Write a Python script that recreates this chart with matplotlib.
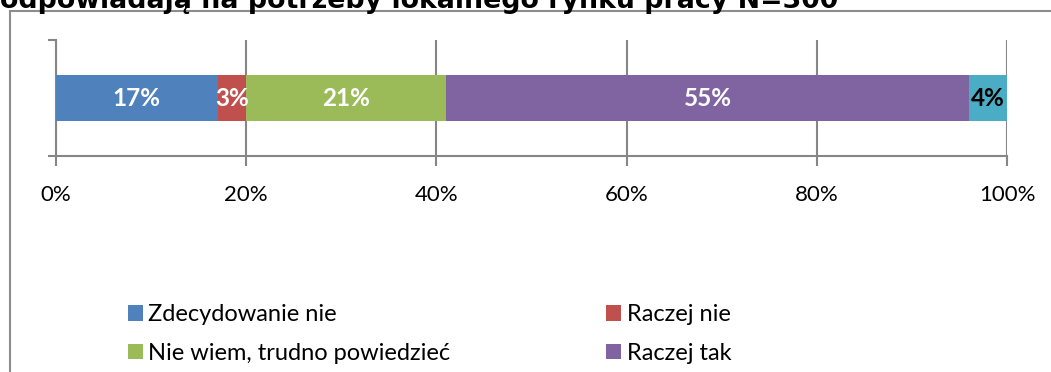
import matplotlib
matplotlib.use("Agg")
from matplotlib import pyplot as plt
from matplotlib.patches import Patch, Rectangle
from matplotlib.ticker import PercentFormatter

W, H = 1051, 372

categories = ["Zdecydowanie nie", "Raczej nie", "Nie wiem, trudno powiedzieć",
              "Raczej tak", "Zdecydowanie tak"]
values = [17, 3, 21, 55, 4]
colors = ["#4F81BD", "#C0504D", "#9BBB59", "#8064A2", "#4BACC6"]
label_colors = ["white", "white", "white", "white", "black"]
xticks = [0, 20, 40, 60, 80, 100]
title_tail = "odpowiadają na potrzeby lokalnego rynku pracy N=300"

GRID = "#868686"

fig = plt.figure(figsize=(W / 100, H / 100), dpi=100)

def px(x, y):
    # pixel from top-left -> figure fraction
    return x / W, 1 - y / H

# chart frame
fig.patches.append(Rectangle(px(10, 400), 1100 / W, 389 / H, transform=fig.transFigure,
                             fill=False, edgecolor="#8c8c8c", linewidth=1.5))

# title runs off the top edge
fig.text(0, 1 - 8 / H, title_tail, fontsize=19.3, fontweight="bold",
         family="DejaVu Sans", va="baseline", ha="left")

ax = fig.add_axes([56 / W, 1 - 156 / H, 951 / W, 116 / H])
left = 0
for cat, v, c, lc in zip(categories, values, colors, label_colors):
    ax.barh(0, v, left=left, height=0.405, color=c, label=cat, zorder=3)
    ax.text(left + v / 2, 0, f"{v}%", ha="center", va="center", color=lc,
            fontsize=17.5, fontweight="bold", family="Lato", zorder=4)
    left += v

ax.set_xlim(0, 100)
ax.set_ylim(-0.5, 0.5)
ax.set_xticks(xticks)
ax.xaxis.set_major_formatter(PercentFormatter(decimals=0))
ax.grid(axis="x", color=GRID, linewidth=1.5, zorder=0)
ax.set_yticks([-0.5, 0.5])
ax.set_yticklabels([])
ax.tick_params(axis="y", length=6, width=1.5, color=GRID)
ax.tick_params(axis="x", length=7, width=1.5, color=GRID, pad=14, labelsize=16)
for lab in ax.get_xticklabels():
    lab.set_family("Lato")
for s in ["top", "right"]:
    ax.spines[s].set_visible(False)
for s in ["left", "bottom"]:
    ax.spines[s].set_color(GRID)
    ax.spines[s].set_linewidth(1.5)

# legend is filled row by row; the last row falls below the bottom edge
order = [0, 2, 4, 1, 3]
handles = [Patch(facecolor=colors[i], edgecolor="none") for i in order]
labels = [categories[i] for i in order]
fig.legend(handles, labels, ncol=2, loc="upper left", bbox_to_anchor=px(128, 304),
           frameon=False, borderpad=0, borderaxespad=0,
           prop={"family": "Lato", "size": 17},
           handlelength=0.64, handleheight=0.64, handletextpad=0.22,
           columnspacing=6.6, labelspacing=0.75)

fig.savefig("out.png", dpi=100)
